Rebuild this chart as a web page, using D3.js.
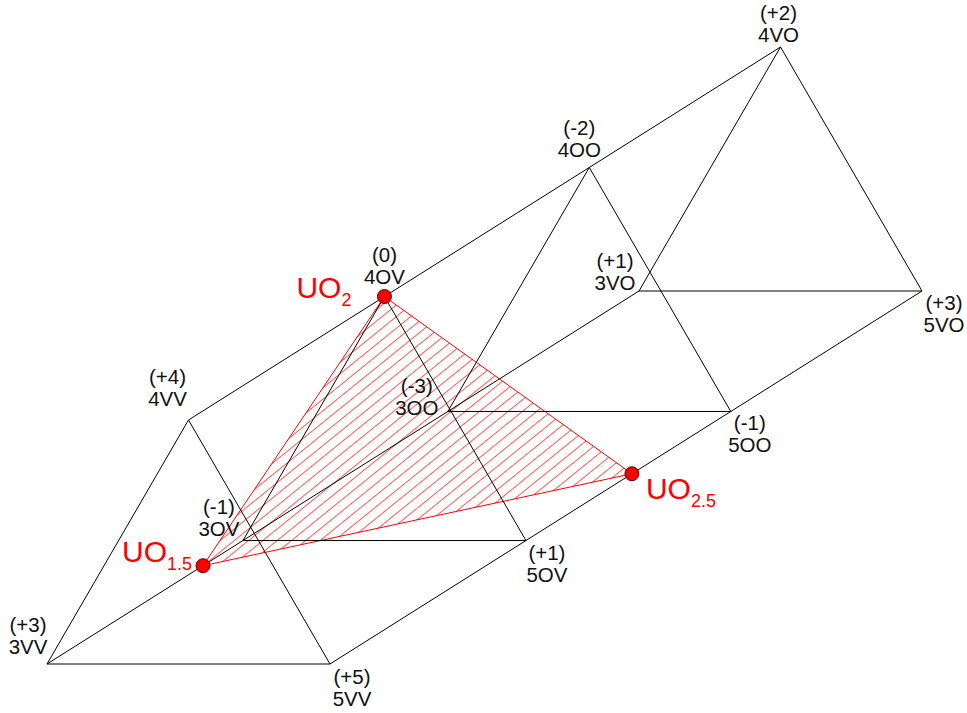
<!DOCTYPE html>
<html lang="en">
<head>
<meta charset="UTF-8">
<title>UO phase prism</title>
<script src="https://d3js.org/d3.v7.min.js"></script>
<style>
  body { margin: 0; background: #fff; }
  svg { display: block; font-family: Arial, "Liberation Sans", sans-serif; }
</style>
</head>
<body>
<div id="chart"></div>
<script>
// triangle corners (cross-section) and layers along the prism axis
const corners = ["3", "5", "4"];
const cornerU = [0, 1, 0.5];      // position across the base of the triangle
const cornerV = [0, 0, 0.866];    // height in the triangle
const layers = ["VV", "OV", "OO", "VO"];
const layerT = [0, 0.331, 0.677, 1];

// vertex names and charges
const nodeNames = ["3VV", "5VV", "4VV", "3OV", "5OV", "4OV", "3OO", "5OO", "4OO", "3VO", "5VO", "4VO"];
const nodeCharges = ["(+3)", "(+5)", "(+4)", "(-1)", "(+1)", "(0)", "(-3)", "(-1)", "(-2)", "(+1)", "(+3)", "(+2)"];

// UO points: corner line they sit on and position along the axis
const uoNames = ["2", "1.5", "2.5"];
const uoCorner = ["4", "3", "5"];
const uoT = [0.331, 0.2635, 0.51];

const width = 967, height = 713;

// scales: triangle plane + prism axis
const triX = d3.scaleLinear().domain([0, 1]).range([0, 283]);
const triY = d3.scaleLinear().domain([0, 0.866]).range([0, -244]);
const axX = d3.scaleLinear().domain([0, 1]).range([47, 639]);
const axY = d3.scaleLinear().domain([0, 1]).range([664, 291]);

function project(corner, t) {
  const i = corners.indexOf(corner);
  return [axX(t) + triX(cornerU[i]), axY(t) + triY(cornerV[i])];
}

const nodes = nodeNames.map((name, i) => {
  const t = layerT[layers.indexOf(name.slice(1))];
  const [x, y] = project(name[0], t);
  return { name, charge: nodeCharges[i], x, y };
});
const byName = Object.fromEntries(nodes.map(d => [d.name, d]));

const uo = uoNames.map((sub, i) => {
  const [x, y] = project(uoCorner[i], uoT[i]);
  return { sub, x, y };
});

// edges: triangles per layer + long lines along each corner
const edges = [];
layers.forEach(l => {
  edges.push([byName["3" + l], byName["5" + l]]);
  edges.push([byName["5" + l], byName["4" + l]]);
  edges.push([byName["4" + l], byName["3" + l]]);
});
corners.forEach(c => edges.push([byName[c + "VV"], byName[c + "VO"]]));

// label placement (offset of the first line centre from the vertex)
const labelPos = {
  "3VV": [-19, -39], "5VV": [22, 13], "4VV": [-21, -43],
  "3OV": [-24, -34], "5OV": [21, 12], "4OV": [0, -42],
  "3OO": [-31, -26], "5OO": [19, 11], "4OO": [-10, -40],
  "3VO": [-24, -30], "5VO": [22, 12], "4VO": [-2, -34]
};
const uoLabelPos = [[-88, 1], [-81, -4], [14, 25]];

const svg = d3.select("#chart").append("svg")
  .attr("width", width)
  .attr("height", height)
  .attr("viewBox", [0, 0, width, height]);

// hatch pattern
const defs = svg.append("defs");
const pat = defs.append("pattern")
  .attr("id", "hatch")
  .attr("patternUnits", "userSpaceOnUse")
  .attr("width", 9)
  .attr("height", 9)
  .attr("patternTransform", "rotate(51)");
pat.append("line")
  .attr("x1", 0).attr("y1", 0)
  .attr("x2", 0).attr("y2", 9)
  .attr("stroke", "#ff0000")
  .attr("stroke-width", 1.3);

// shaded UO triangle
svg.append("polygon")
  .attr("points", uo.map(d => [d.x, d.y].join(",")).join(" "))
  .attr("fill", "url(#hatch)")
  .attr("stroke", "#ff0000")
  .attr("stroke-width", 1);

// black prism edges
svg.append("g")
  .attr("stroke", "#000")
  .attr("stroke-width", 1)
  .selectAll("line")
  .data(edges)
  .join("line")
  .attr("x1", d => d[0].x)
  .attr("y1", d => d[0].y)
  .attr("x2", d => d[1].x)
  .attr("y2", d => d[1].y);

// vertex labels
const lab = svg.append("g")
  .style("font-size", "20.5px")
  .attr("fill", "#111")
  .attr("text-anchor", "middle")
  .selectAll("text")
  .data(nodes)
  .join("text")
  .attr("x", d => d.x + labelPos[d.name][0])
  .attr("y", d => d.y + labelPos[d.name][1])
  .attr("dy", "0.35em");
lab.append("tspan").text(d => d.charge);
lab.append("tspan")
  .attr("x", d => d.x + labelPos[d.name][0])
  .attr("dy", 22)
  .text(d => d.name);

// UO points
svg.append("g")
  .selectAll("circle")
  .data(uo)
  .join("circle")
  .attr("cx", d => d.x)
  .attr("cy", d => d.y)
  .attr("r", 7)
  .attr("fill", "#ff0000")
  .attr("stroke", "#5a0000")
  .attr("stroke-width", 1);

const ul = svg.append("g")
  .attr("fill", "#ff0000")
  .selectAll("text")
  .data(uo)
  .join("text")
  .attr("x", (d, i) => d.x + uoLabelPos[i][0])
  .attr("y", (d, i) => d.y + uoLabelPos[i][1])
  .style("font-size", "30px");
ul.append("tspan").text("UO");
ul.append("tspan")
  .style("font-size", "18px")
  .attr("dy", 8.5)
  .text(d => d.sub);
</script>
</body>
</html>
